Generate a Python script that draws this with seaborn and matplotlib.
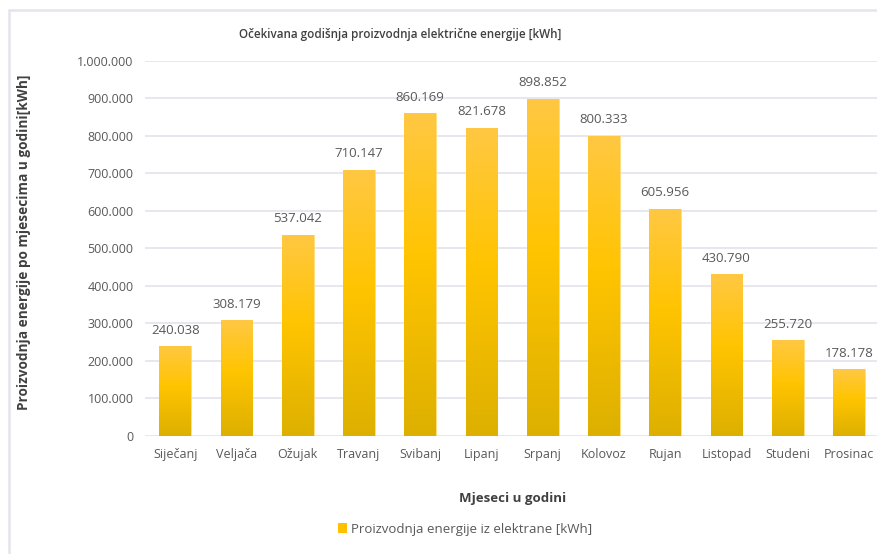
import numpy as np
import pandas as pd
import matplotlib
matplotlib.use("Agg")
import matplotlib.pyplot as plt
import seaborn as sns
from matplotlib.colors import LinearSegmentedColormap
from matplotlib.patches import Rectangle

months = ["Siječanj", "Veljača", "Ožujak", "Travanj", "Svibanj", "Lipanj",
          "Srpanj", "Kolovoz", "Rujan", "Listopad", "Studeni", "Prosinac"]
production = [240038, 308179, 537042, 710147, 860169, 821678,
              898852, 800333, 605956, 430790, 255720, 178178]
series_name = "Proizvodnja energije iz elektrane [kWh]"

df = pd.DataFrame({"Mjesec": months, "kWh": production})

sns.set_theme(style="white")
plt.rcParams["font.family"] = ["Open Sans", "DejaVu Sans"]

txt = "#595959"
fig = plt.figure(figsize=(8.77, 5.54), dpi=100)
ax = fig.add_axes([0.165, 0.213, 0.838, 0.677])

sns.barplot(data=df, x="Mjesec", y="kWh", color="#FFC000", width=0.52,
            ax=ax, legend=False)

cmap = LinearSegmentedColormap.from_list(
    "gold", [(0.0, "#DDB000"), (0.55, "#FFC400"), (1.0, "#FFC843")])
grad = np.linspace(0, 1, 256).reshape(-1, 1)
for p in ax.patches:
    x0, y0 = p.get_x(), p.get_y()
    w, h = p.get_width(), p.get_height()
    p.set_facecolor("none")
    p.set_edgecolor("#FFD86A")
    p.set_linewidth(0.6)
    im = ax.imshow(grad, cmap=cmap, origin="lower", aspect="auto",
                   extent=[x0, x0 + w, y0, y0 + h], zorder=2)
    im.set_clip_path(p)

for i, v in enumerate(production):
    ax.text(i, v + 25000, f"{v:,}".replace(",", "."), ha="center",
            va="bottom", fontsize=9.5, color=txt)

ax.set_xlim(-0.5, len(months) - 0.5)
ax.set_ylim(0, 1000000)
ax.set_yticks(np.arange(0, 1000001, 100000))
ax.set_yticklabels([f"{int(t):,}".replace(",", ".") for t in np.arange(0, 1000001, 100000)])
ax.yaxis.grid(True, color="#E3E3EA", linewidth=1.2)
ax.set_axisbelow(True)
for s in ax.spines.values():
    s.set_visible(False)
ax.tick_params(axis="both", length=0, labelsize=9, colors=txt, pad=8)
ax.tick_params(axis="x", pad=9)

ax.set_xlabel("Mjeseci u godini", fontsize=9.5, fontweight="bold",
              color="#404040", labelpad=22)
ax.set_ylabel("Proizvodnja energije po mjesecima u godini[kWh]", fontsize=9.8,
              fontweight="bold", color="#404040", labelpad=0)
ax.yaxis.set_label_coords(-0.155, 0.516)
ax.set_title("Očekivana godišnja proizvodnja električne energije [kWh]",
             fontsize=8.4, fontweight="semibold", color="#404040", x=0.348, y=1.04)

# legend
handle = Rectangle((0, 0), 1, 1, facecolor="#FFC000", edgecolor="none")
fig.legend([handle], [series_name], loc="center", bbox_to_anchor=(0.53, 0.045),
           frameon=False, fontsize=9.5, handlelength=0.7, handleheight=0.7,
           handletextpad=0.3, labelcolor=txt)

# chart frame
frame = Rectangle((9 / 877, -0.05), 1.0, 1 - 10 / 554 + 0.05,
                  transform=fig.transFigure, fill=False,
                  edgecolor="#E4E4EC", linewidth=1.8, zorder=0)
fig.patches.append(frame)

fig.savefig("out.png", dpi=100, facecolor="white")
